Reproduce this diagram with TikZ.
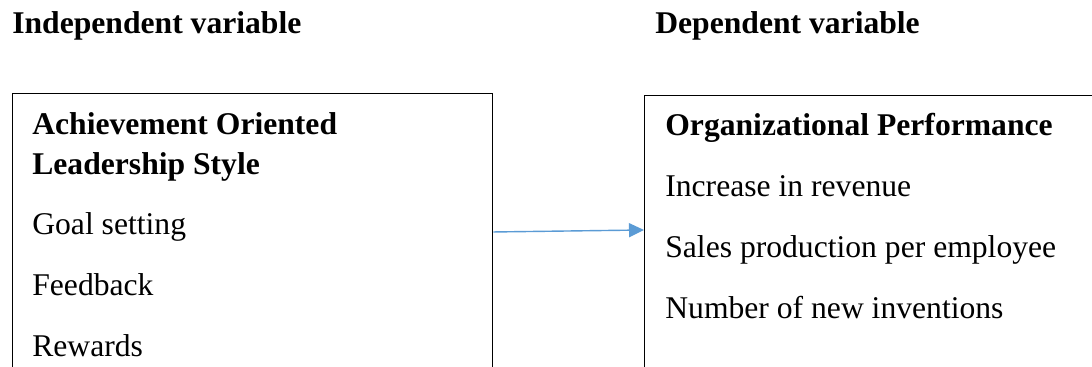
\documentclass[tikz,border=0pt]{standalone}
\usepackage{fontspec}
\setmainfont{Liberation Serif}
\usetikzlibrary{arrows.meta}
\definecolor{arrowblue}{RGB}{91,155,213}

\begin{document}
\begin{tikzpicture}[
    x=0.02cm, y=-0.02cm,
    box/.style={draw, rectangle, line width=0.8pt, anchor=north west},
    txt/.style={anchor=base west, inner sep=0pt,
                font=\fontsize{18}{22}\selectfont},
    head/.style={txt, font=\fontsize{18}{22}\selectfont\bfseries},
    link/.style={-{Triangle[length=0.3cm, width=0.28cm]}, arrowblue,
                 line width=0.8pt}
]
    \useasboundingbox (0,0) rectangle (1092,366);
    \clip (0,0) rectangle (1092,366);

    \node[head] (indep) at (12,33) {Independent variable};
    \node[head] (dep) at (655,33) {Dependent variable};

    % boxes run past the page edge
    \node[box, minimum width=9.6cm, minimum height=6.3cm] (leftbox) at (12,93) {};
    \node[box, minimum width=10cm, minimum height=6.3cm] (rightbox) at (644,95) {};

    \node[head] (aol1) at (32,134) {Achievement Oriented};
    \node[head] (aol2) at (32,174) {Leadership Style};
    \node[txt] (goal) at (32,234) {Goal setting};
    \node[txt] (feed) at (32,295) {Feedback};
    \node[txt] (rew) at (32,356) {Rewards};

    \node[head] (orgp) at (665,135) {Organizational Performance};
    \node[txt] (rev) at (665,196) {Increase in revenue};
    \node[txt] (sales) at (665,257) {Sales production per employee};
    \node[txt] (inv) at (665,318) {Number of new inventions};

    \draw[link] ([yshift=-2.78cm]leftbox.north east)
        -- ([yshift=-2.7cm]rightbox.north west);
\end{tikzpicture}
\end{document}
